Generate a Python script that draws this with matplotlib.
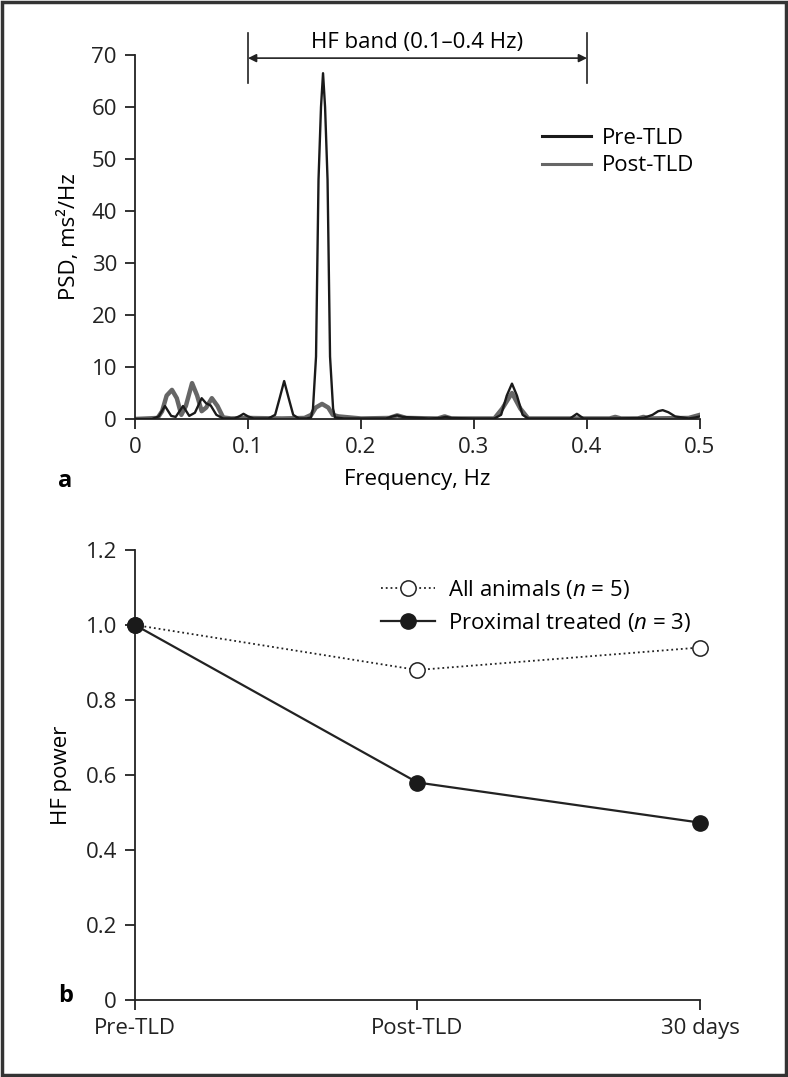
import matplotlib.pyplot as plt
from matplotlib.patches import Rectangle

plt.rcParams["font.family"] = ["Open Sans", "DejaVu Sans"]
plt.rcParams["mathtext.fontset"] = "custom"
plt.rcParams["mathtext.rm"] = "Open Sans"
plt.rcParams["mathtext.it"] = "Open Sans:italic"
plt.rcParams["font.size"] = 16

# --- panel a: power spectra ---
pre_freq = [0, 0.015, 0.021, 0.0265, 0.032, 0.036, 0.0425, 0.048, 0.053, 0.059,
            0.063, 0.067, 0.072, 0.078, 0.088, 0.093, 0.096, 0.1, 0.105, 0.118,
            0.124, 0.128, 0.132, 0.136, 0.14, 0.145, 0.152, 0.1558, 0.1575,
            0.1602, 0.1624, 0.1646, 0.1664, 0.1682, 0.1704, 0.1726, 0.1753,
            0.177, 0.185, 0.2, 0.222, 0.228, 0.232, 0.237, 0.26, 0.27, 0.275,
            0.28, 0.3, 0.318, 0.324, 0.329, 0.3336, 0.338, 0.343, 0.348, 0.37,
            0.385, 0.391, 0.397, 0.42, 0.45, 0.458, 0.463, 0.467, 0.472, 0.478,
            0.49, 0.496, 0.5]
pre_psd = [0, 0, 0.5, 2.5, 0.6, 0.4, 2.5, 0.6, 1.2, 4.0,
           3.0, 2.6, 0.8, 0.1, 0.1, 0.6, 1.0, 0.5, 0.1, 0.1,
           0.8, 4.0, 7.3, 4.0, 0.8, 0.1, 0.1, 0.3, 2.0,
           12.0, 46.0, 60.0, 66.5, 60.0, 46.0, 12.0, 2.0,
           0.3, 0.1, 0.1, 0.1, 0.5, 0.7, 0.4, 0.1, 0.2, 0.4,
           0.2, 0.1, 0.1, 0.8, 4.5, 6.8, 4.5, 0.8, 0.1, 0.1,
           0.1, 1.0, 0.1, 0.1, 0.2, 0.8, 1.5, 1.7, 1.3, 0.5,
           0.1, 0.3, 0.5]

post_freq = [0, 0.02, 0.024, 0.028, 0.0327, 0.037, 0.041, 0.045, 0.0505, 0.055,
             0.059, 0.063, 0.068, 0.073, 0.078, 0.085, 0.1, 0.13, 0.15, 0.156,
             0.16, 0.1655, 0.171, 0.175, 0.18, 0.2, 0.225, 0.232, 0.24, 0.268,
             0.274, 0.28, 0.318, 0.325, 0.3336, 0.341, 0.348, 0.42, 0.425,
             0.43, 0.445, 0.45, 0.455, 0.49, 0.5]
post_psd = [0, 0.2, 1.5, 4.5, 5.6, 4.0, 0.8, 2.5, 6.9, 4.5,
            1.5, 2.2, 4.0, 2.5, 0.3, 0.1, 0.2, 0.1, 0.2, 0.8,
            2.2, 2.9, 2.2, 0.8, 0.5, 0.1, 0.2, 0.7, 0.2, 0.1,
            0.5, 0.1, 0.1, 2.0, 5.0, 2.0, 0.1, 0.1, 0.4,
            0.1, 0.1, 0.4, 0.1, 0.2, 0.8]

# --- panel b: HF power ---
time_labels = ["Pre-TLD", "Post-TLD", "30 days"]
all_animals = [1.0, 0.88, 0.94]
proximal = [1.0, 0.58, 0.473]

fig = plt.figure(figsize=(7.88, 10.77), dpi=100)
fig.patches.append(Rectangle((0.002, 0.002), 0.996, 0.996, transform=fig.transFigure,
                             fill=False, edgecolor="#333333", linewidth=2.5))

def style_axes(ax):
    for s in ("top", "right"):
        ax.spines[s].set_visible(False)
    for s in ("left", "bottom"):
        ax.spines[s].set_linewidth(1.3)
        ax.spines[s].set_color("#222222")
    ax.tick_params(direction="out", length=7, width=1.3, colors="#222222",
                   labelsize=16, pad=6)

ax1 = fig.add_axes([135 / 788, 1 - 419 / 1077, 565 / 788, 364 / 1077])
style_axes(ax1)
ax1.plot(post_freq, post_psd, color="#666666", lw=3.2, label="Post-TLD", zorder=2)
ax1.plot(pre_freq, pre_psd, color="#1a1a1a", lw=1.7, label="Pre-TLD", zorder=3)
ax1.set_xlim(0, 0.5)
ax1.set_ylim(0, 70)
ax1.set_xticks([0, 0.1, 0.2, 0.3, 0.4, 0.5])
ax1.set_xticklabels(["0", "0.1", "0.2", "0.3", "0.4", "0.5"])
ax1.set_yticks(range(0, 71, 10))
ax1.set_xlabel("Frequency, Hz", labelpad=8)
ax1.set_ylabel("PSD, ms²/Hz", labelpad=8)

h, l = ax1.get_legend_handles_labels()
leg1 = ax1.legend([h[1], h[0]], [l[1], l[0]], frameon=False, loc="upper right",
                  bbox_to_anchor=(1.025, 0.855), handlelength=2.2, handletextpad=0.5,
                  labelspacing=0.3, fontsize=16)
leg1.get_lines()[0].set_linewidth(2.2)
leg1.get_lines()[1].set_linewidth(2.2)

# HF band marker
for xv in (0.1, 0.4):
    ax1.plot([xv, xv], [64.6, 74.2], color="#222222", lw=1.2, clip_on=False)
ax1.annotate("", xy=(0.1, 69.4), xytext=(0.4, 69.4),
             arrowprops=dict(arrowstyle="<|-|>", color="#222222", lw=1.2,
                             mutation_scale=12, shrinkA=0, shrinkB=0),
             annotation_clip=False)
ax1.text(0.25, 72.4, "HF band (0.1–0.4 Hz)", ha="center", va="center", fontsize=16)

ax2 = fig.add_axes([135 / 788, 1 - 1000 / 1077, 565 / 788, 450 / 1077])
style_axes(ax2)
xpos = range(len(time_labels))
ax2.plot(xpos, all_animals, ls=":", color="#222222", lw=1.3, marker="o",
         markersize=11, markerfacecolor="white", markeredgecolor="#222222",
         markeredgewidth=1.1, label="All animals ($n$ = 5)", clip_on=False, zorder=3)
ax2.plot(xpos, proximal, ls="-", color="#222222", lw=1.6, marker="o",
         markersize=11, markerfacecolor="#1a1a1a", markeredgecolor="#1a1a1a",
         label="Proximal treated ($n$ = 3)", clip_on=False, zorder=4)
ax2.set_xlim(0, 2)
ax2.set_ylim(0, 1.2)
ax2.set_xticks(list(xpos))
ax2.set_xticklabels(time_labels)
ax2.set_yticks([0, 0.2, 0.4, 0.6, 0.8, 1.0, 1.2])
ax2.set_yticklabels(["0", "0.2", "0.4", "0.6", "0.8", "1.0", "1.2"])
ax2.set_ylabel("HF power", labelpad=10)
ax2.legend(frameon=False, loc="upper right", bbox_to_anchor=(1.02, 0.982),
           handlelength=2.4, handletextpad=0.6, labelspacing=0.45, fontsize=16)

fig.text(58 / 788, 1 - 481 / 1077, "a", fontsize=17, fontweight="bold",
         ha="left", va="center")
fig.text(58 / 788, 1 - 996 / 1077, "b", fontsize=17, fontweight="bold",
         ha="left", va="center")

fig.savefig("out.png", dpi=100)
